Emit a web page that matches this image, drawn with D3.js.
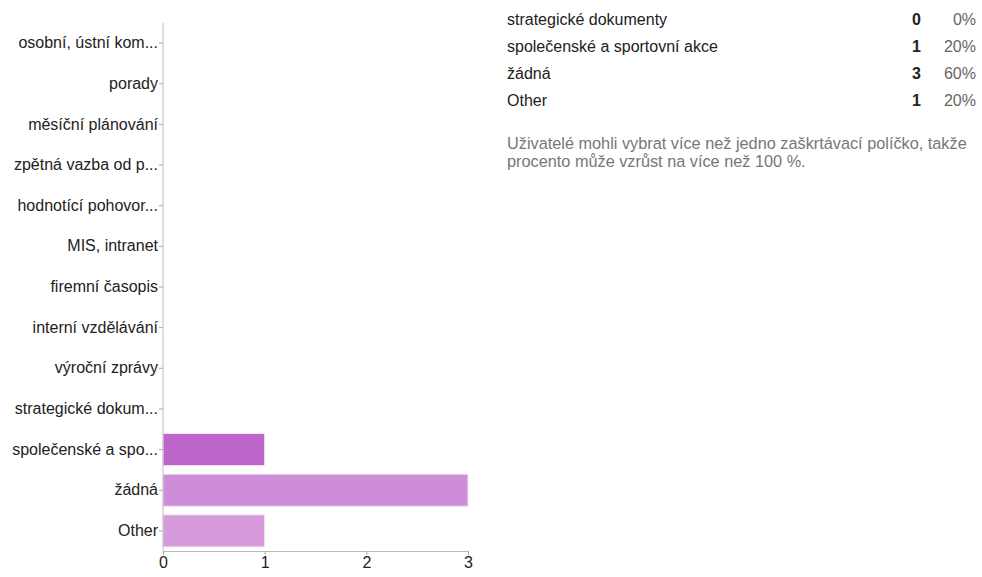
<!DOCTYPE html>
<html>
<head>
<meta charset="utf-8">
<script src="https://cdn.jsdelivr.net/npm/d3@7"></script>
<style>
  body { margin: 0; background: #fff; font-family: "Liberation Sans", Arial, sans-serif; }
</style>
</head>
<body>
<div id="chart"></div>
<script>
const categories = [
    "osobní, ústní kom...",
    "porady",
    "měsíční plánování",
    "zpětná vazba od p...",
    "hodnotící pohovor...",
    "MIS, intranet",
    "firemní časopis",
    "interní vzdělávání",
    "výroční zprávy",
    "strategické dokum...",
    "společenské a spo...",
    "žádná",
    "Other"
];
const counts = [0, 0, 0, 0, 0, 0, 0, 0, 0, 0, 1, 3, 1];
const barColors = ["#bd66c9", "#bd66c9", "#bd66c9", "#bd66c9", "#bd66c9", "#bd66c9",
    "#bd66c9", "#bd66c9", "#bd66c9", "#bd66c9", "#bd66c9", "#cd8dd8", "#d69bdd"];
const xTicks = [0, 1, 2, 3];

const tableLabels = ["strategické dokumenty", "společenské a sportovní akce", "žádná", "Other"];
const tableCounts = [0, 1, 3, 1];
const tablePercents = ["0%", "20%", "60%", "20%"];
const noteLines = [
    "Uživatelé mohli vybrat více než jedno zaškrtávací políčko, takže",
    "procento může vzrůst na více než 100 %."
];

const width = 982, height = 577;
const margin = { top: 23, left: 163, bottom: 26 };
const plotWidth = 305;

const svg = d3.select("#chart").append("svg")
    .attr("width", width)
    .attr("height", height);

const x = d3.scaleLinear()
    .domain([0, 3])
    .range([margin.left, margin.left + plotWidth]);
const y = d3.scaleBand()
    .domain(categories)
    .range([margin.top, height - margin.bottom])
    .paddingInner(0.21)
    .paddingOuter(0.1);

svg.append("g")
    .selectAll("rect")
    .data(categories)
    .enter().append("rect")
    .attr("x", x(0))
    .attr("y", d => y(d))
    .attr("width", (d, i) => x(counts[i]) - x(0))
    .attr("height", y.bandwidth())
    .attr("fill", (d, i) => barColors[i])
    .attr("stroke", "#f3e6f5")
    .attr("stroke-width", 1)
    .style("display", (d, i) => counts[i] > 0 ? null : "none");

const yAxis = d3.axisLeft(y).tickSize(4).tickPadding(1);
const yg = svg.append("g")
    .attr("transform", `translate(${margin.left},0)`)
    .call(yAxis);
yg.select(".domain").remove();
yg.selectAll(".tick line").attr("stroke", "#aaa");
yg.selectAll("text")
    .style("font-size", "16px")
    .style("font-family", "'Liberation Sans', Arial, sans-serif")
    .attr("fill", "#222");
svg.append("line")
    .attr("x1", margin.left).attr("x2", margin.left)
    .attr("y1", margin.top).attr("y2", height - margin.bottom)
    .attr("stroke", "#bbb");

const xAxis = d3.axisBottom(x).tickValues(xTicks).tickFormat(d3.format("d")).tickSize(4).tickPadding(2);
const xg = svg.append("g")
    .attr("transform", `translate(0,${height - margin.bottom})`)
    .call(xAxis);
xg.select(".domain").attr("stroke", "#bbb");
xg.selectAll(".tick line").attr("stroke", "#aaa");
xg.selectAll("text")
    .style("font-size", "16px")
    .style("font-family", "'Liberation Sans', Arial, sans-serif")
    .attr("fill", "#222");

// summary table
const rowY = d3.scalePoint()
    .domain(tableLabels)
    .range([19, 100]);
const table = svg.append("g")
    .style("font-family", "'Liberation Sans', Arial, sans-serif")
    .style("font-size", "16px");
table.selectAll(".lbl")
    .data(tableLabels)
    .enter().append("text")
    .attr("x", 507)
    .attr("y", d => rowY(d))
    .attr("dy", "0.35em")
    .attr("fill", "#222")
    .text(d => d);
table.selectAll(".cnt")
    .data(tableLabels)
    .enter().append("text")
    .attr("x", 921)
    .attr("y", d => rowY(d))
    .attr("dy", "0.35em")
    .attr("text-anchor", "end")
    .attr("font-weight", "bold")
    .attr("fill", "#222")
    .text((d, i) => tableCounts[i]);
table.selectAll(".pct")
    .data(tableLabels)
    .enter().append("text")
    .attr("x", 976)
    .attr("y", d => rowY(d))
    .attr("dy", "0.35em")
    .attr("text-anchor", "end")
    .attr("fill", "#666")
    .text((d, i) => tablePercents[i]);

svg.append("g")
    .selectAll("text")
    .data(noteLines)
    .enter().append("text")
    .attr("x", 507)
    .attr("y", (d, i) => 143 + i * 18)
    .attr("dy", "0.35em")
    .style("font-family", "'Liberation Sans', Arial, sans-serif")
    .style("font-size", "16.3px")
    .attr("fill", "#777")
    .text(d => d);
</script>
</body>
</html>
